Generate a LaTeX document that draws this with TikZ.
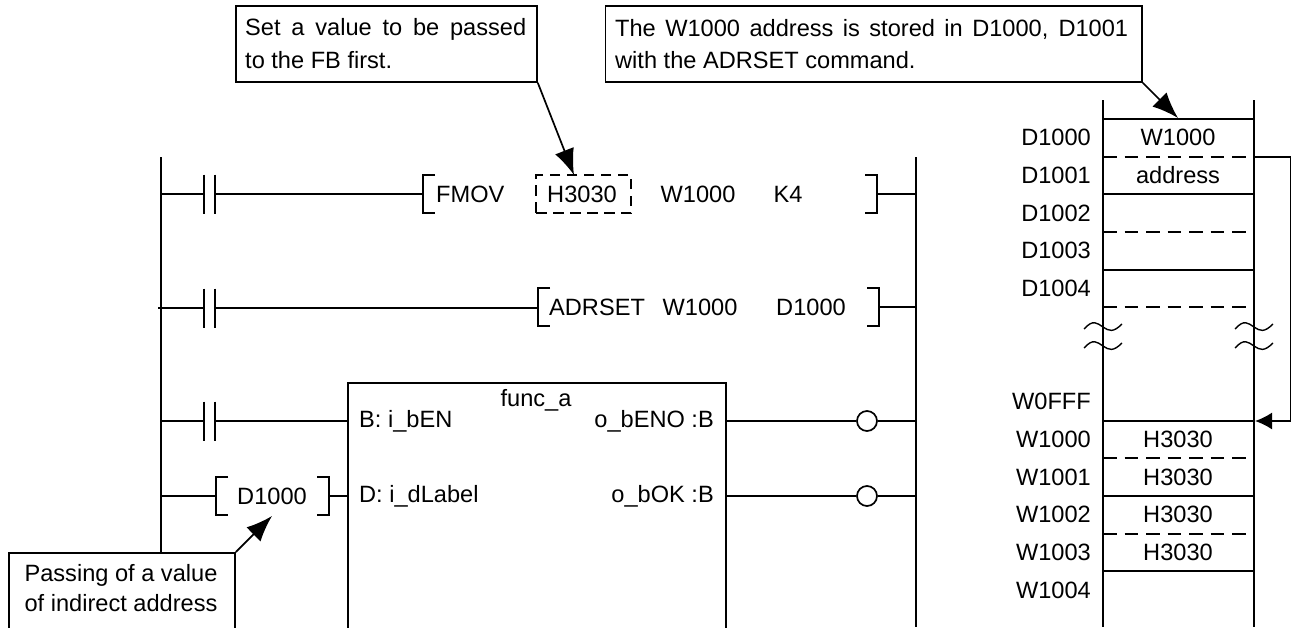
\documentclass[tikz,border=0pt]{standalone}
\usepackage{fontspec}
\setmainfont{Liberation Sans}
\usetikzlibrary{arrows.meta}
\tikzset{
  wire/.style={line width=1.7pt,black},
  rail/.style={line width=2.3pt,black},
  dashline/.style={line width=1.7pt,dash pattern=on 13.5pt off 8pt},
  note/.style={draw,line width=1.8pt,fill=white,inner sep=0pt,anchor=north west},
  lbl/.style={inner sep=0pt,font=\fontsize{23.6}{28}\selectfont},
  lblc/.style={lbl,anchor=center},
  lblw/.style={lbl,anchor=west},
  lble/.style={lbl,anchor=east},
  bigarrow/.style={wire,-{Latex[length=26pt,width=20pt]}},
  smallarrow/.style={wire,-{Latex[length=17pt,width=17pt]}},
  coil/.style={circle,draw,line width=1.7pt,fill=white,minimum size=20pt,inner sep=0pt}
}
% contact: #1 name, #2 y
\newcommand{\ctc}[2]{%
  \coordinate (#1a) at (204,#2);
  \coordinate (#1b) at (215,#2);
  \draw[wire] (204,#2-19.5) -- (204,#2+19.5);
  \draw[wire] (215,#2-19.5) -- (215,#2+19.5);
}
% left bracket: #1 name, #2 x, #3 y ; right bracket likewise
\newcommand{\lbrk}[3]{%
  \coordinate (#1) at (#2,#3);
  \draw[wire] (#2+12,#3-19) -- (#2,#3-19) -- (#2,#3+19) -- (#2+12,#3+19);
}
\newcommand{\rbrk}[3]{%
  \coordinate (#1) at (#2,#3);
  \draw[wire] (#2-12,#3-19) -- (#2,#3-19) -- (#2,#3+19) -- (#2-12,#3+19);
}
% break mark at rail
\newcommand{\brk}[2]{%
  \draw[wire,line width=1.4pt] (#1-19,#2+2) .. controls (#1-10,#2-8) and (#1-6,#2-4) .. (#1,#2)
     .. controls (#1+6,#2+4) and (#1+10,#2+6) .. (#1+19,#2-3);
}
\begin{document}
\begin{tikzpicture}[x=1pt,y=-1pt]
\useasboundingbox (0,0) rectangle (1291,627);
\clip (0,0) rectangle (1291,627);

% rails
\coordinate (railLt) at (161,157);
\coordinate (railLb) at (161,560);
\coordinate (railRt) at (916,157);
\coordinate (railRb) at (916,627);
\draw[rail] (railLt) -- (railLb);
\draw[rail] (railRt) -- (railRb);

% rung 1
\ctc{ca}{194}
\lbrk{la}{423}{194}
\rbrk{ra}{877}{194}
\coordinate (ra0) at (161,194);
\coordinate (ra1) at (916,194);
\draw[wire] (ra0) -- (caa);
\draw[wire] (cab) -- (la);
\draw[wire] (ra) -- (ra1);
\node[lblw] (fmov) at (436,194) {FMOV};
\node[lblc] (hval) at (582,194) {H3030};
\node[draw,line width=1.7pt,dash pattern=on 10.5pt off 6.5pt,minimum width=95pt,minimum height=38pt,inner sep=0pt] (hbox) at (583.5,194) {};
\node[lblc] (wa) at (698,194) {W1000};
\node[lblc] (kf) at (788,194) {K4};

% rung 2
\ctc{cb}{308}
\lbrk{lb}{538}{307}
\rbrk{rb}{879}{307}
\coordinate (rb0) at (158,308);
\coordinate (rb1) at (916,307);
\draw[wire] (rb0) -- (cba);
\draw[wire] (cbb) -- (cbb -| lb);
\draw[wire] (rb) -- (rb1);
\node[lblw] (adr) at (549,307) {ADRSET};
\node[lblc] (wb) at (700,307) {W1000};
\node[lblc] (db) at (811,307) {D1000};

% function block
\coordinate (fbTL) at (348,383);
\coordinate (fbTR) at (726,383);
\draw[rail,line width=2pt] (348,640) -- (fbTL) -- (fbTR) -- (726,640);
\node[lblc] (fname) at (536,400) {func\_a};
\node[lblw] (pa) at (359,421) {B: i\_bEN};
\node[lblw] (pb) at (359,496) {D: i\_dLabel};
\node[lble] (pc) at (714,421) {o\_bENO :B};
\node[lble] (pd) at (714,496) {o\_bOK :B};

% rung 3
\ctc{cc}{421}
\coordinate (rc0) at (161,421);
\coordinate (rc1) at (348,421);
\draw[wire] (rc0) -- (cca);
\draw[wire] (ccb) -- (rc1);

% rung 4
\coordinate (rd0) at (161,496);
\lbrk{ld}{216}{496}
\rbrk{rd}{329}{496}
\coordinate (rd1) at (348,496);
\draw[wire] (rd0) -- (ld);
\draw[wire] (rd) -- (rd1);
\node[lblc] (dd) at (272,496) {D1000};

% outputs
\coordinate (oa0) at (726,421);
\coordinate (oa1) at (916,421);
\coordinate (ob0) at (726,496);
\coordinate (ob1) at (916,496);
\node[coil] (ca1) at (867,421) {};
\node[coil] (cb1) at (867,496) {};
\draw[wire] (oa0) -- (ca1);
\draw[wire] (ca1) -- (oa1);
\draw[wire] (ob0) -- (cb1);
\draw[wire] (cb1) -- (ob1);

% callouts
\node[note,minimum width=301pt,minimum height=76pt] (n1) at (235,5) {};
\node[lbl,anchor=west] (n1a) at (245,29) {\makebox[281pt][s]{Set a value to be passed}};
\node[lbl,anchor=west] (n1b) at (245,60) {to the FB first.};
\node[note,minimum width=536.5pt,minimum height=76pt] (n2) at (604.5,5) {};
\node[lbl,anchor=west] (n2a) at (615,29) {\makebox[513pt][s]{The W1000 address is stored in D1000, D1001}};
\node[lbl,anchor=west] (n2b) at (615,60) {with the ADRSET command.};
\node[note,minimum width=226pt,minimum height=100pt] (n3) at (8,552) {};
\node[lblc] (n3a) at (121,575) {Passing of a value};
\node[lblc] (n3b) at (121,603) {of indirect address};

\coordinate (t1) at (574,175);
\coordinate (t2) at (1178,118);
\coordinate (t3) at (272,516);
\draw[bigarrow] (n1.south east) -- (t1);
\draw[bigarrow] (n2.south east) -- (t2);
\draw[bigarrow] (n3.north east) -- (t3);

% memory map
\coordinate (mLt) at (1103,100);
\coordinate (mLb) at (1103,627);
\coordinate (mRt) at (1254,100);
\coordinate (mRb) at (1254,627);
\draw[wire,line width=1.9pt] (mLt) -- (mLb);
\draw[wire,line width=1.9pt] (mRt) -- (mRb);
\foreach \y in {119,194,270,421,496,571} \draw[wire] (1103,\y) -- (1254,\y);
\foreach \y in {157,232,307,458,534} \draw[dashline] (1103,\y) -- (1254,\y);
\brk{1103}{327}
\brk{1254}{327}
\brk{1103}{346}
\brk{1254}{346}

\node[lble] (m1) at (1091,137) {D1000};
\node[lble] (m2) at (1091,175) {D1001};
\node[lble] (m3) at (1091,213) {D1002};
\node[lble] (m4) at (1091,250) {D1003};
\node[lble] (m5) at (1091,288) {D1004};
\node[lble] (m6) at (1091,401) {W0FFF};
\node[lble] (m7) at (1091,439) {W1000};
\node[lble] (m8) at (1091,477) {W1001};
\node[lble] (m9) at (1091,514) {W1002};
\node[lble] (m10) at (1091,552) {W1003};
\node[lble] (m11) at (1091,590) {W1004};

\node[lblc] (v1) at (1178,137) {W1000};
\node[lblc] (v2) at (1178,175) {address};
\node[lblc] (v3) at (1178,439) {H3030};
\node[lblc] (v4) at (1178,477) {H3030};
\node[lblc] (v5) at (1178,514) {H3030};
\node[lblc] (v6) at (1178,552) {H3030};

% pointer
\coordinate (p0) at (1254,157);
\coordinate (p1) at (1291,157);
\coordinate (p2) at (1291,421);
\coordinate (p3) at (1255,421);
\draw[smallarrow] (p0) -- (p1) -- (p2) -- (p3);
\end{tikzpicture}
\end{document}
